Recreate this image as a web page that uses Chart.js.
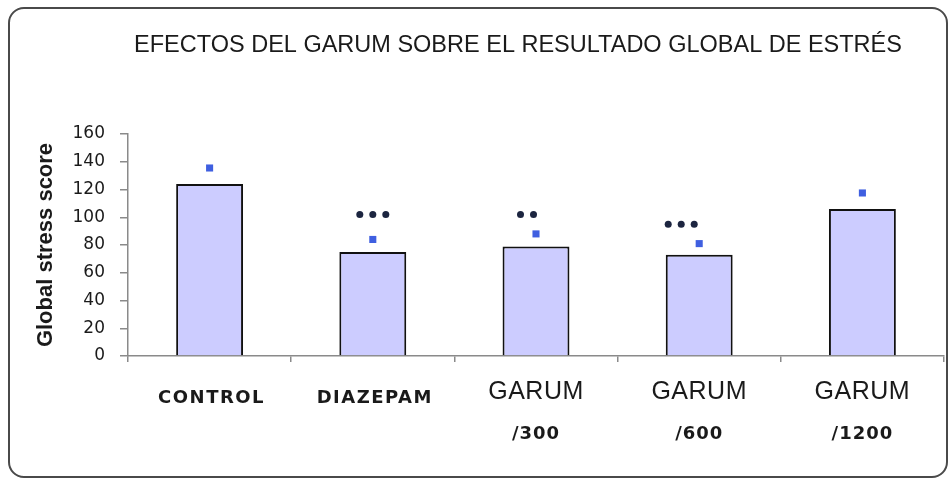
<!DOCTYPE html>
<html>
<head>
<meta charset="utf-8">
<script src="https://cdn.jsdelivr.net/npm/chart.js@4/dist/chart.umd.min.js"></script>
<style>
  html, body { margin: 0; padding: 0; background: #ffffff; }
  #wrap { position: relative; width: 949px; height: 480px; }
  #frame {
    position: absolute; left: 8px; top: 7px; width: 936px; height: 467px;
    border: 2px solid #4a4a4a; border-radius: 16px; pointer-events: none;
  }
  canvas { position: absolute; left: 0; top: 0; }
</style>
</head>
<body>
<div id="wrap">
  <canvas id="chart" width="949" height="480"></canvas>
  <div id="frame"></div>
</div>
<script>
// Chart data
const chartTitle = 'EFECTOS DEL GARUM SOBRE EL RESULTADO GLOBAL DE ESTRÉS';
const categories = ['CONTROL', 'DIAZEPAM', 'GARUM /300', 'GARUM /600', 'GARUM /1200'];
const stressScores = [124, 75, 79, 73, 106];
const markerValues = [135.5, 84, 88, 81, 117.5];
const sigStars = [0, 3, 2, 3, 0];
const sigValues = [null, 102, 102, 95, null];
const yTicks = [0, 20, 40, 60, 80, 100, 120, 140, 160];

// Title drawn over the plot centre (slightly left, as in the original)
const titlePlugin = {
    id: 'topTitle',
    afterDraw(chart) {
        const ctx = chart.ctx;
        const area = chart.chartArea;
        ctx.save();
        ctx.fillStyle = '#1a1a1a';
        ctx.font = '23.5px "Liberation Sans", Arial, sans-serif';
        ctx.textAlign = 'center';
        ctx.textBaseline = 'middle';
        ctx.fillText(chartTitle, (area.left + area.right) / 2 - 18, 46);
        ctx.restore();
    }
};

// Category labels: first word in one font, dose on a second line in another
const labelPlugin = {
    id: 'catLabels',
    afterDraw(chart) {
        const ctx = chart.ctx;
        const x = chart.scales.x;
        ctx.save();
        ctx.fillStyle = '#1a1a1a';
        ctx.textAlign = 'center';
        ctx.textBaseline = 'middle';
        categories.forEach((cat, i) => {
            const cx = x.getPixelForValue(i);
            const parts = cat.split(' ');
            if (parts.length === 1) {
                ctx.font = 'bold 18px "DejaVu Sans", sans-serif';
                ctx.letterSpacing = '1.5px';
                ctx.fillText(parts[0], cx + 2, 398);
            } else {
                ctx.font = '25px "Liberation Sans", Arial, sans-serif';
                ctx.letterSpacing = '0.5px';
                ctx.fillText(parts[0], cx, 392);
                ctx.font = 'bold 18px "DejaVu Sans", sans-serif';
                ctx.letterSpacing = '1px';
                ctx.fillText(parts[1], cx, 434);
            }
        });
        ctx.restore();
    }
};

// Significance dots above bars
const starPlugin = {
    id: 'sigStars',
    afterDatasetsDraw(chart, args, opts) {
        const ctx = chart.ctx;
        const x = chart.scales.x;
        const y = chart.scales.y;
        ctx.save();
        ctx.fillStyle = opts.color;
        sigStars.forEach((n, i) => {
            if (!n) return;
            const cx = x.getPixelForValue(i) + opts.offsets[i];
            const cy = y.getPixelForValue(sigValues[i]);
            const start = cx - (n - 1) * opts.gap / 2;
            for (let k = 0; k < n; k++) {
                ctx.beginPath();
                ctx.arc(start + k * opts.gap, cy, opts.radius, 0, Math.PI * 2);
                ctx.fill();
            }
        });
        ctx.restore();
    }
};

const ctx = document.getElementById('chart');
const chart = new Chart(ctx, {
    type: 'bar',
    data: {
        labels: categories,
        datasets: [
            {
                type: 'line',
                data: markerValues,
                showLine: false,
                pointStyle: 'rect',
                pointRadius: 5,
                pointBorderWidth: 0,
                pointBackgroundColor: '#3f5fe0',
                order: 0
            },
            {
                data: stressScores,
                backgroundColor: '#ccccff',
                borderColor: '#111111',
                borderWidth: 2,
                barPercentage: 0.41,
                categoryPercentage: 1,
                order: 1
            }
        ]
    },
    options: {
        responsive: false,
        animation: false,
        layout: { padding: { top: 134, right: 4, left: 0, bottom: 0 } },
        plugins: {
            legend: { display: false },
            tooltip: { enabled: false },
            sigStars: { color: '#1c2540', radius: 3.5, gap: 13, offsets: [0, 0, -9, -18, 0] }
        },
        scales: {
            x: {
                offset: true,
                ticks: { display: false },
                grid: {
                    offset: true,
                    drawOnChartArea: false,
                    drawTicks: true,
                    tickLength: 6,
                    color: '#8a8a8a',
                    lineWidth: 1.5
                },
                border: { color: '#8a8a8a', width: 1.5 },
                afterFit(scale) { scale.height = 124; }
            },
            y: {
                min: 0,
                max: 160,
                afterBuildTicks(scale) { scale.ticks = yTicks.map(v => ({ value: v })); },
                ticks: {
                    color: '#1a1a1a',
                    padding: 15,
                    font: { family: '"DejaVu Sans", sans-serif', size: 17 }
                },
                grid: {
                    drawOnChartArea: false,
                    drawTicks: true,
                    tickLength: 8,
                    color: '#8a8a8a',
                    lineWidth: 1.5
                },
                border: { color: '#8a8a8a', width: 1.5 },
                title: {
                    display: true,
                    text: 'Global stress score',
                    color: '#1a1a1a',
                    font: { family: '"Liberation Sans", Arial, sans-serif', size: 22, weight: 'bold' },
                    padding: { top: 33, bottom: 0 }
                },
                afterFit(scale) { scale.width = 128; }
            }
        }
    },
    plugins: [titlePlugin, labelPlugin, starPlugin]
});
</script>
</body>
</html>
